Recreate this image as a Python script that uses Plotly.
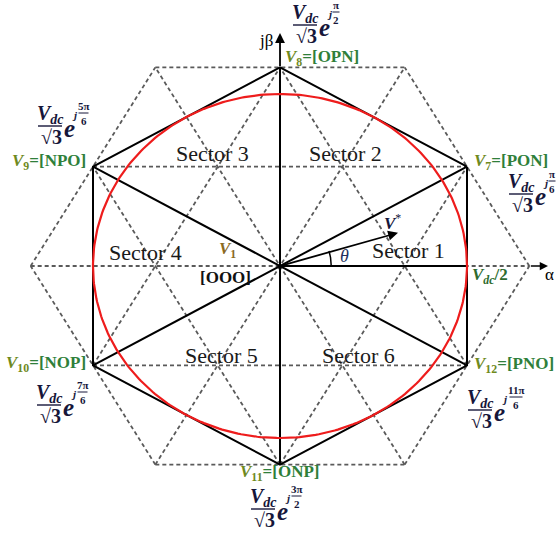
import numpy as np
import plotly.graph_objects as go

# ---- data ---------------------------------------------------------------
VDC = 1.0
LARGE = 2 * VDC / 3                      # large-vector magnitude (outer hexagon)
MEDIUM = VDC / np.sqrt(3)                # medium-vector magnitude
INSCRIBED = VDC / 2                      # radius of the linear-modulation circle

med_angles_deg = [30, 90, 150, 210, 270, 330]
med_ids = ["7", "8", "9", "10", "11", "12"]
med_states = ["PON", "OPN", "NPO", "NOP", "ONP", "PNO"]
exp_num = ["π", "π", "5π", "7π", "3π", "11π"]
exp_den = ["6", "2", "6", "6", "2", "6"]

sector_names = ["Sector 1", "Sector 2", "Sector 3", "Sector 4", "Sector 5", "Sector 6"]

vref_angle_deg = 17.0
vref_mag = 0.33

# ---- canvas mapping (pixel -> data) --------------------------------------
W, H = 557, 536
OX, OY = 280, 266
SX, SY = 374.0, 344.0


def px(x):
    return (x - OX) / SX


def py(y):
    return (OY - y) / SY


SERIF = "Liberation Serif"
GRID_C = "#5a5a5a"
NAVY = "#16163a"
GREEN = "#2f7f3a"
OLIVE = "#6f8a1e"

fig = go.Figure()

# ---- triangular dashed grid of the three-level diagram -------------------
h = LARGE * np.sin(np.pi / 3) / 2
gx, gy = [], []
for phi in (0, 60, 120):
    d = np.array([np.cos(np.radians(phi)), np.sin(np.radians(phi))])
    n = np.array([-d[1], d[0]])
    for k in (-2, -1, 0, 1, 2):
        half = {0: LARGE, 1: 0.75 * LARGE, 2: 0.5 * LARGE}[abs(k)]
        c = k * h * n
        p0, p1 = c - half * d, c + half * d
        gx += [p0[0], p1[0], None]
        gy += [p0[1], p1[1], None]
fig.add_trace(go.Scatter(x=gx, y=gy, mode="lines", hoverinfo="skip",
                         line=dict(color=GRID_C, width=1.8, dash="4px,3px")))

# ---- medium-vector hexagon and diagonals ---------------------------------
ang = np.radians(med_angles_deg)
mx = MEDIUM * np.cos(ang)
my = MEDIUM * np.sin(ang)
hx = list(mx) + [mx[0]]
hy = list(my) + [my[0]]
fig.add_trace(go.Scatter(x=hx, y=hy, mode="lines", hoverinfo="skip",
                         line=dict(color="black", width=2)))
dx, dy = [], []
for i in range(3):
    dx += [mx[i], mx[i + 3], None]
    dy += [my[i], my[i + 3], None]
dx += [0, INSCRIBED, None]
dy += [0, 0, None]
fig.add_trace(go.Scatter(x=dx, y=dy, mode="lines", hoverinfo="skip",
                         line=dict(color="black", width=2)))

# ---- inscribed circle -----------------------------------------------------
t = np.linspace(0, 2 * np.pi, 361)
fig.add_trace(go.Scatter(x=INSCRIBED * np.cos(t), y=INSCRIBED * np.sin(t),
                         mode="lines", hoverinfo="skip",
                         line=dict(color="#ee1c1c", width=2.2)))

# ---- theta arc ------------------------------------------------------------
ta = np.linspace(0, np.radians(vref_angle_deg), 30)
r_arc = 0.137
fig.add_trace(go.Scatter(x=r_arc * np.cos(ta), y=r_arc * np.sin(ta) * SX / SY,
                         mode="lines", hoverinfo="skip",
                         line=dict(color="black", width=1.5)))

ann = []


def arrow(x0, y0, x1, y1, width=1.8):
    ann.append(dict(x=x1, y=y1, ax=x0, ay=y0, xref="x", yref="y", axref="x", ayref="y",
                    showarrow=True, arrowhead=2, arrowsize=1.1, arrowwidth=width,
                    arrowcolor="black", text=""))


# axes
arrow(0, MEDIUM, 0, py(33))
arrow(LARGE, 0, px(548), 0, width=1.5)
# reference vector
vr = np.radians(vref_angle_deg)
arrow(0, 0, vref_mag * np.cos(vr), vref_mag * np.sin(vr))


def text(xp, yp, s, size=17, color="black", **kw):
    ann.append(dict(x=px(xp), y=py(yp), xref="x", yref="y", text=s, showarrow=False,
                    font=dict(family=SERIF, size=size, color=color),
                    xanchor=kw.pop("xanchor", "center"), yanchor=kw.pop("yanchor", "middle"), **kw))


shapes = []


def bar(x0, x1, y, width=1.4):
    shapes.append(dict(type="line", xref="x", yref="y", x0=px(x0), x1=px(x1),
                       y0=py(y), y1=py(y), line=dict(color=NAVY, width=width)))


def formula(bx, by, num, den):
    """V_dc / sqrt(3) * e^{j num/den}, bar centred at pixel (bx, by)."""
    bar(bx - 12, bx + 12, by)
    text(bx, by - 12, "<b><i>V</i><sub><i>dc</i></sub></b>", size=20, color=NAVY)
    text(bx + 1, by + 11, "<b>√3</b>", size=20, color=NAVY)
    text(bx + 19, by + 2, "<b><i>e</i></b>", size=25, color=NAVY)
    text(bx + 25, by - 11, "<b><i>j</i></b>", size=11, color=NAVY)
    off = 31 + 2.5 * (len(num) - 1)
    w = 4 + 3 * len(num)
    text(bx + off, by - 20, "<b>" + num + "</b>", size=11, color=NAVY)
    text(bx + off, by - 5, "<b>" + den + "</b>", size=11, color=NAVY)
    bar(bx + off - w / 2, bx + off + w / 2, by - 13, width=1)


# state labels and magnitude/phase expressions per medium vector
label_pos = [(511, 162), (322, 58), (49, 162), (46, 364), (279, 473), (514, 365)]
formula_pos = [(521, 194), (305, 25), (50, 126), (49, 405), (263, 509), (480, 410)]
for i in range(6):
    lx, ly = label_pos[i]
    s = (f"<b><i><span style='color:{OLIVE}'>V</span></i>"
         f"<span style='color:{OLIVE}'><sub>{med_ids[i]}</sub></span>"
         f"=[{med_states[i]}]</b>")
    text(lx, ly, s, size=17, color=GREEN)
    fx, fy = formula_pos[i]
    formula(fx, fy, exp_num[i], exp_den[i])

# sector labels
sector_pos = [(408, 250), (345, 153), (212, 153), (145, 252), (221, 355), (358, 355)]
for name, (sx, sy) in zip(sector_names, sector_pos):
    text(sx, sy, name, size=22, color="#1a1a1a")

# other labels
text(266, 40, "jβ", size=17)
text(549, 274, "α", size=17)
text(490, 276, f"<b><i>V</i><sub><i>dc</i></sub>/2</b>", size=17, color="#2e6b2e")
text(227, 250, "<b><i>V</i><sub>1</sub></b>", size=17, color="#8b6b1f")
text(225, 277, "<b>[OOO]</b>", size=17, color="#111111")
text(344, 256, "<i>θ</i>", size=18, color="#203060")
text(392, 222, "<b><i>V</i></b><sup>*</sup>", size=17, color=NAVY)

fig.update_layout(
    width=W, height=H, margin=dict(l=0, r=0, t=0, b=0),
    paper_bgcolor="white", plot_bgcolor="white", showlegend=False,
    xaxis=dict(range=[px(0), px(W)], visible=False, fixedrange=True),
    yaxis=dict(range=[py(H), py(0)], visible=False, fixedrange=True),
    annotations=ann, shapes=shapes,
)

fig.write_html("out.html")
